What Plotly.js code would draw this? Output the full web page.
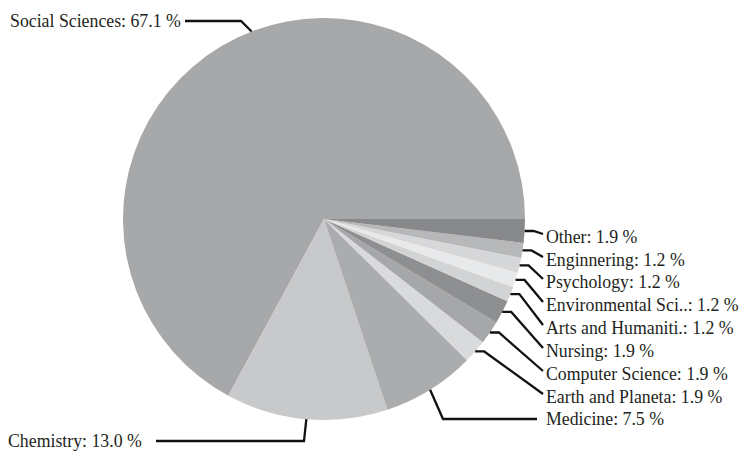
<!DOCTYPE html>
<html>
<head>
<meta charset="utf-8">
<script src="https://cdn.plot.ly/plotly-3.0.1.min.js"></script>
<style>html,body{margin:0;padding:0;background:#fff;}#chart{width:742px;height:452px;}</style>
</head>
<body>
<div id="chart"></div>
<script>
// ---- data ----
const categories = ["Social Sciences", "Chemistry", "Medicine", "Earth and Planeta", "Computer Science",
  "Nursing", "Arts and Humaniti.", "Environmental Sci..", "Psychology", "Enginnering", "Other"];
const shares = [67.1, 13.0, 7.5, 1.9, 1.9, 1.9, 1.2, 1.2, 1.2, 1.2, 1.9];
const sliceColors = ["#a7a8aa", "#c8c9cb", "#abacae", "#d9dadc", "#a6a7a9",
  "#8e8f91", "#d2d3d5", "#e8e9ea", "#d6d7d9", "#b7b8ba", "#88898b"];

// ---- layout constants (pixels) ----
const W = 742, H = 452;
const cx = 324, cy = 219, R = 201;
const labelSide = ["left", "left", "right", "right", "right", "right", "right", "right", "right", "right", "right"];
const labelY = [21, 441, 419, 397, 374, 351, 328, 305, 282, 260, 237];
const labelX = [182, 143, 545, 545, 545, 545, 545, 545, 545, 545, 545];
const lineEndX = [185, 156, 537, 543, 543, 543, 543, 543, 543, 543, 543];
const elbowX = [241, 304, 443, null, null, null, null, null, null, null, null];
const anchorFrac = [0.46, 0.5, 0.5, 0.5, 0.5, 0.5, 0.5, 0.5, 0.5, 0.5, 0.5];

const px = x => x / W;
const py = y => 1 - y / H;

const total = shares.reduce((a, b) => a + b, 0);
let cum = 0;
const shapes = [];
const annotations = [];
shares.forEach((v, i) => {
  const start = cum / total;
  const frac = v / total;
  cum += v;
  const f = start + frac * anchorFrac[i];
  const phi = 2 * Math.PI * f; // counterclockwise from 3 o'clock
  const ax = cx + R * Math.cos(phi);
  const ay = cy - R * Math.sin(phi);
  let pts;
  if (elbowX[i] !== null) {
    pts = [[ax, ay], [elbowX[i], labelY[i]], [lineEndX[i], labelY[i]]];
  } else {
    pts = [[ax, ay], [ax + 9, ay], [lineEndX[i], labelY[i] - 3]];
  }
  const path = pts.map((p, k) => (k ? "L" : "M") + px(p[0]).toFixed(5) + "," + py(p[1]).toFixed(5)).join(" ");
  shapes.push({type: "path", xref: "paper", yref: "paper", path: path,
    line: {color: "#111111", width: 2.3}});
  annotations.push({
    xref: "paper", yref: "paper", x: px(labelX[i]), y: py(labelY[i]),
    xanchor: labelSide[i] === "left" ? "right" : "left", yanchor: "middle",
    text: categories[i] + ": " + v.toFixed(1) + " %", showarrow: false,
    font: {family: "Liberation Serif, Times New Roman, serif", size: 17.8, color: "#231f20"},
    borderpad: 0
  });
});

// In counterclockwise mode Plotly's rotation marks the clockwise-most edge of the first slice;
// place it so that the first slice begins at 3 o'clock and runs counterclockwise.
const rotation = 90 - 360 * shares[0] / total;

const trace = {
  type: "pie",
  labels: categories,
  values: shares,
  sort: false,
  direction: "counterclockwise",
  rotation: rotation,
  textinfo: "none",
  hoverinfo: "none",
  marker: {colors: sliceColors, line: {width: 0}},
  domain: {x: [(cx - R) / W, (cx + R) / W], y: [(H - cy - R) / H, (H - cy + R) / H]}
};

Plotly.newPlot("chart", [trace], {
  width: W, height: H,
  margin: {l: 0, r: 0, t: 0, b: 0},
  showlegend: false,
  paper_bgcolor: "#ffffff",
  shapes: shapes,
  annotations: annotations
}, {displayModeBar: false, staticPlot: true});
</script>
</body>
</html>
